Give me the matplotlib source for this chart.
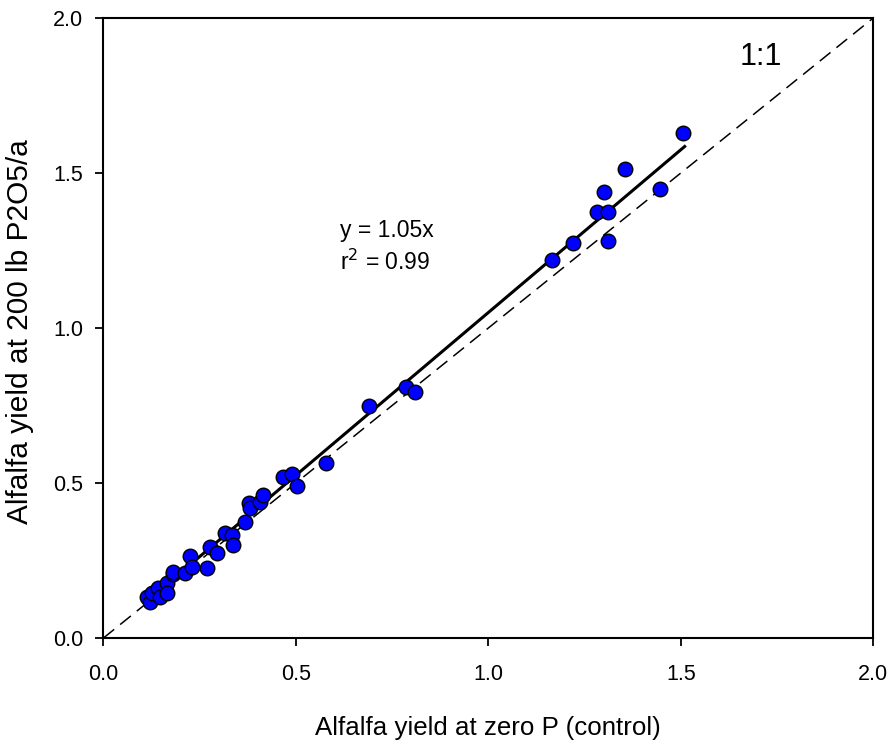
import matplotlib.pyplot as plt
import numpy as np

# yields (t/a)
yield_control = [0.112, 0.120, 0.125, 0.142, 0.147, 0.164, 0.164, 0.180, 0.181, 0.212,
                 0.225, 0.229, 0.270, 0.277, 0.294, 0.316, 0.333, 0.337, 0.367, 0.378,
                 0.380, 0.406, 0.415, 0.466, 0.490, 0.502, 0.578, 0.690, 0.786, 0.809,
                 1.165, 1.220, 1.310, 1.282, 1.310, 1.300, 1.355, 1.446, 1.506]
yield_200p = [0.133, 0.116, 0.145, 0.160, 0.133, 0.177, 0.145, 0.205, 0.213, 0.210,
              0.264, 0.230, 0.226, 0.295, 0.274, 0.340, 0.332, 0.300, 0.375, 0.435,
              0.420, 0.440, 0.460, 0.520, 0.530, 0.490, 0.565, 0.748, 0.810, 0.794,
              1.219, 1.274, 1.280, 1.374, 1.374, 1.439, 1.513, 1.448, 1.629]
slope = 1.05
fit_range = [0.11, 1.51]
ticks = [0.0, 0.5, 1.0, 1.5, 2.0]
tick_labels = ['0.0', '0.5', '1.0', '1.5', '2.0']

plt.rcParams['font.family'] = ['Liberation Sans', 'DejaVu Sans']

fig = plt.figure(figsize=(8.92, 7.44), dpi=100)
ax = fig.add_axes([0.116, 0.1425, 0.863, 0.8333])

# 1:1 line
ax.plot([0, 2], [0, 2], color='black', lw=1.1, dashes=(9, 5), zorder=1)
# regression line through origin
fx = np.array(fit_range)
ax.plot(fx, slope * fx, color='black', lw=2.2, zorder=2)
ax.scatter(yield_control, yield_200p, s=110, c='#0000ff', edgecolors='black',
           linewidths=1.0, zorder=3)

ax.set_xlim(0, 2)
ax.set_ylim(0, 2)
ax.set_xticks(ticks)
ax.set_yticks(ticks)
ax.set_xticklabels(tick_labels)
ax.set_yticklabels(tick_labels)
ax.tick_params(direction='out', length=6, width=1.3, labelsize=15.5)
ax.tick_params(axis='x', pad=12.5)
ax.tick_params(axis='y', pad=8.5)
for sp in ax.spines.values():
    sp.set_linewidth(1.5)

ax.set_xlabel('Alfalfa yield at zero P (control)', fontsize=18.6, va='baseline')
ax.xaxis.set_label_coords(0.5, -0.1565)
ax.set_ylabel('Alfalfa yield at 200 lb P2O5/a', fontsize=21.5)
ax.yaxis.set_label_coords(-0.0903, 0.494)

ax.text(0.614, 1.294, 'y = 1.05x', fontsize=16.5, va='baseline', ha='left')
ax.text(0.614, 1.187, r'r$^2$ = 0.99', fontsize=16.5, va='baseline', ha='left')
ax.text(1.707, 1.848, '1:1', fontsize=22, va='baseline', ha='center')

plt.savefig('out.png', dpi=100)
plt.close()
